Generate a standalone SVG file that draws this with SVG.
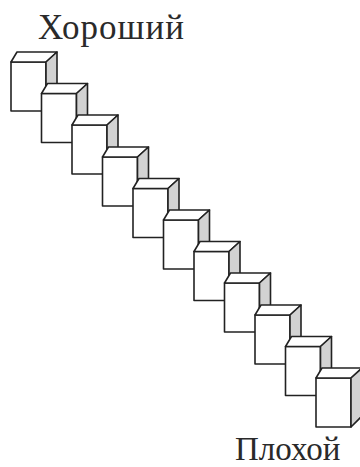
<svg xmlns="http://www.w3.org/2000/svg" xmlns:xlink="http://www.w3.org/1999/xlink" width="360" height="467" viewBox="0 0 360 467">
<style>
.edge{stroke:#222;stroke-width:1.6;stroke-linejoin:round}
.front{fill:#fff}
.top{fill:#fff}
.side{fill:#d2d2d2}
.lbl{font-family:"Liberation Serif","Times New Roman",serif;fill:#2a2a2a}
</style>
<defs>
<g id="box">
<rect class="front edge" x="0" y="0" width="35" height="49"/>
<polygon class="top edge" points="0,0 6,-10 46,-10 35,0"/>
<polygon class="side edge" points="35,0 46,-10 46,38 35,49"/>
</g>
</defs>
<rect width="360" height="467" fill="#fff"/>
<g id="label-good"><text class="lbl" x="38" y="39" font-size="35" letter-spacing="1">Хороший</text></g>
<g id="box1" transform="translate(11,62)"><use href="#box" xlink:href="#box"/></g>
<g id="box2" transform="translate(41.5,93.5)"><use href="#box" xlink:href="#box"/></g>
<g id="box3" transform="translate(72,125)"><use href="#box" xlink:href="#box"/></g>
<g id="box4" transform="translate(102.5,157)"><use href="#box" xlink:href="#box"/></g>
<g id="box5" transform="translate(133,188.5)"><use href="#box" xlink:href="#box"/></g>
<g id="box6" transform="translate(163.5,220)"><use href="#box" xlink:href="#box"/></g>
<g id="box7" transform="translate(194,251.5)"><use href="#box" xlink:href="#box"/></g>
<g id="box8" transform="translate(224.5,283)"><use href="#box" xlink:href="#box"/></g>
<g id="box9" transform="translate(255,315)"><use href="#box" xlink:href="#box"/></g>
<g id="box10" transform="translate(285.5,346.5)"><use href="#box" xlink:href="#box"/></g>
<g id="box11" transform="translate(316,378)"><use href="#box" xlink:href="#box"/></g>
<g id="label-bad"><text class="lbl" x="235" y="460" font-size="33">Плохой</text></g>
<g id="connectors"/>
</svg>
